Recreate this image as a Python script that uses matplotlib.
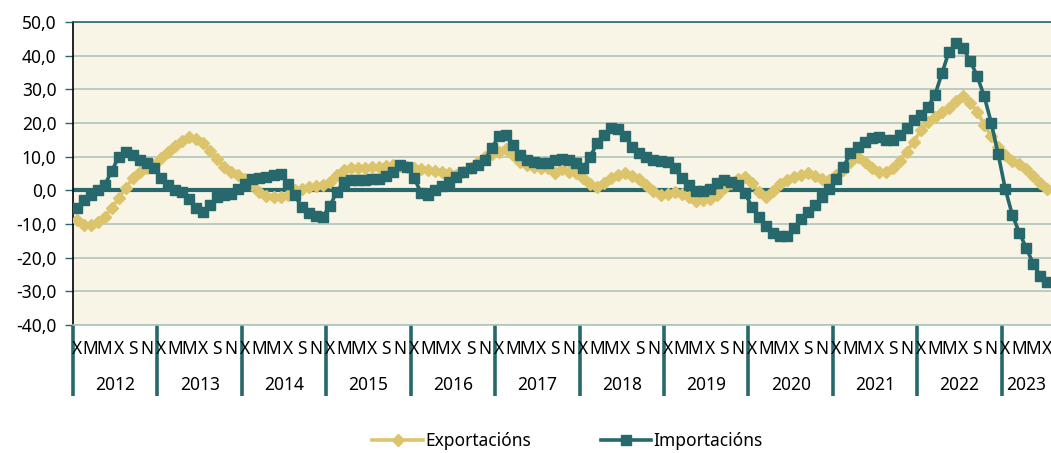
import matplotlib
matplotlib.use("Agg")
import matplotlib.pyplot as plt
import numpy as np

plt.rcParams["font.family"] = ["Noto Sans", "DejaVu Sans"]

# monthly year-on-year rates, Jan 2012 .. Jul 2023
years = ["2012", "2013", "2014", "2015", "2016", "2017", "2018", "2019",
         "2020", "2021", "2022", "2023"]
month_letters = ["X", "M", "M", "X", "S", "N"]  # every other month

exportacions = [
    -8.8, -10.3, -10.3, -9.3, -7.8, -5.3, -2.3, 0.7, 3.6, 5.5, 6.6, 7.5,      # 2012
    9.6, 11.5, 13.2, 14.7, 15.9, 15.2, 14.0, 11.8, 9.3, 7.0, 5.5, 4.5,        # 2013
    3.5, 1.5, -0.5, -1.8, -2.0, -2.0, -1.5, 0.0, 0.5, 1.0, 1.2, 1.5,          # 2014
    2.6, 4.5, 6.0, 6.5, 6.5, 6.5, 6.8, 7.0, 7.2, 7.5, 7.2, 6.8,               # 2015
    6.5, 6.2, 6.0, 5.8, 5.5, 5.0, 4.5, 5.5, 6.5, 8.5, 10.0, 10.8,             # 2016
    11.3, 12.2, 10.5, 8.5, 7.5, 7.0, 6.5, 6.5, 5.2, 6.3, 5.3, 5.2,            # 2017
    3.6, 1.9, 0.9, 2.1, 3.6, 4.6, 5.0, 4.4, 3.3, 1.6, -0.2, -1.5,             # 2018
    -1.2, -0.5, -1.0, -2.1, -3.2, -2.8, -2.5, -1.3, 0.6, 2.1, 3.3, 4.0,       # 2019
    2.1, -0.4, -2.1, -0.1, 1.9, 3.1, 3.9, 4.6, 5.2, 4.3, 3.3, 3.1,            # 2020
    4.6, 6.0, 8.5, 10.0, 8.5, 6.5, 5.3, 5.3, 6.5, 8.8, 11.5, 14.5,            # 2021
    17.8, 20.2, 21.8, 23.2, 24.5, 26.5, 28.0, 26.0, 23.4, 19.5, 16.0, 13.0,   # 2022
    10.5, 8.8, 7.8, 6.2, 4.2, 2.2, 0.3,                                       # 2023
]

importacions = [
    -5.3, -2.9, -1.4, 0.0, 1.6, 5.7, 10.0, 11.5, 10.5, 9.0, 8.0, 6.6,         # 2012
    3.7, 1.6, 0.1, -0.5, -2.6, -5.3, -6.3, -4.4, -2.0, -1.5, -1.2, 0.5,       # 2013
    2.0, 3.3, 3.8, 4.0, 4.6, 4.8, 2.0, -1.4, -4.9, -6.8, -7.6, -7.8,          # 2014
    -4.7, -0.4, 2.6, 3.0, 3.0, 3.2, 3.3, 3.5, 4.2, 5.5, 7.5, 7.0,             # 2015
    3.6, -0.9, -1.4, 0.0, 1.3, 2.6, 4.0, 5.5, 6.5, 7.5, 9.0, 12.5,            # 2016
    16.0, 16.4, 13.5, 10.5, 9.0, 8.5, 8.0, 8.0, 9.0, 9.2, 9.0, 8.0,           # 2017
    6.5, 10.0, 14.0, 16.4, 18.4, 18.2, 16.0, 13.0, 11.2, 9.8, 9.0, 8.7,       # 2018
    8.3, 6.5, 3.6, 1.6, -0.2, -0.3, 0.5, 2.3, 3.0, 2.6, 1.6, -0.9,            # 2019
    -4.9, -7.8, -10.6, -12.8, -13.6, -13.6, -11.3, -8.5, -6.5, -4.4, -1.9, 0.5,  # 2020
    3.5, 7.0, 11.0, 13.0, 14.5, 15.5, 15.8, 15.0, 15.0, 16.5, 18.5, 21.0,     # 2021
    22.5, 24.7, 28.3, 34.8, 41.2, 43.7, 42.2, 38.5, 34.0, 28.0, 20.1, 10.7,   # 2022
    0.4, -7.3, -12.6, -17.2, -21.9, -25.5, -27.2,                             # 2023
]

GOLD = "#DCC46C"
TEAL = "#26686B"
GRID = "#AFC4BF"
BG = "#F8F4E6"

n = len(exportacions)
x = np.arange(n)

fig = plt.figure(figsize=(10.51, 4.53), dpi=100)
ax = fig.add_axes([73 / 1051, 1 - 325 / 453, 978 / 1051, 303 / 453])
ax.set_facecolor(BG)

ax.set_ylim(-40, 50)
ax.set_xlim(-0.5, n - 0.5)
ax.set_yticks(np.arange(-40, 51, 10))
ax.set_yticklabels([f"{v:.1f}".replace(".", ",") for v in np.arange(-40, 51, 10)],
                   fontsize=12.5)
ax.tick_params(axis="y", length=6, width=1, color=TEAL, pad=6)
ax.set_xticks([])
ax.yaxis.grid(True, color=GRID, lw=1.2)
ax.set_axisbelow(True)
ax.spines["right"].set_visible(False)
ax.spines["top"].set_color(TEAL)
ax.spines["top"].set_linewidth(1.2)
ax.spines["bottom"].set_color(GRID)
ax.spines["bottom"].set_linewidth(1.2)
ax.spines["left"].set_color("black")
ax.spines["left"].set_linewidth(1.2)

ax.axhline(0, color=TEAL, lw=3, zorder=1.5)

ax.plot(x, exportacions, color=GOLD, lw=2.6, marker="D", ms=6.3,
        mec=GOLD, mfc=GOLD, label="Exportacións", zorder=3)
ax.plot(x, importacions, color=TEAL, lw=2.6, marker="s", ms=7.3,
        mec=TEAL, mfc=TEAL, label="Importacións", zorder=4)

# two-level category axis: month initials and years with separators
xt = ax.get_xaxis_transform()
for k, yr in enumerate(years):
    start = 12 * k
    ax.plot([start - 0.5, start - 0.5], [0, -0.235], transform=xt,
            color=TEAL, lw=2.6, clip_on=False, solid_capstyle="butt")
    for j, letter in enumerate(month_letters):
        m = start + 2 * j
        if m < n:
            ax.text(m, -0.079, letter, transform=xt, ha="center", va="center",
                    fontsize=12.5, clip_on=False)
    end = min(start + 11, n - 1)
    ax.text((start + end) / 2, -0.198, yr, transform=xt, ha="center",
            va="center", fontsize=12.5, clip_on=False)

fig.legend(loc="center", bbox_to_anchor=(0.54, 0.027), ncol=2, frameon=False,
           handlelength=2.9, columnspacing=4.0, handletextpad=0.15,
           fontsize=12.5)

fig.savefig("out.png", dpi=100)
